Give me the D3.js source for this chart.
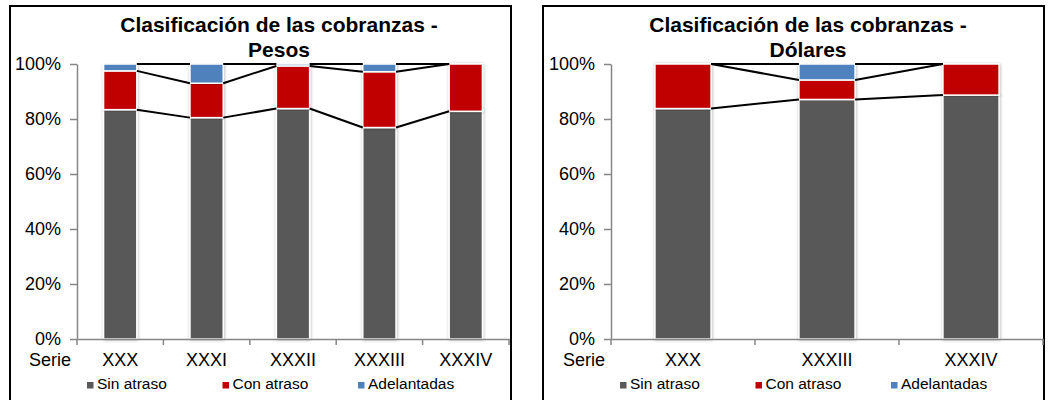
<!DOCTYPE html>
<html>
<head>
<meta charset="utf-8">
<script src="https://cdn.jsdelivr.net/npm/d3@7"></script>
<style>
  html, body { margin: 0; padding: 0; background: #fff; }
  svg { display: block; font-family: Arial, "Liberation Sans", sans-serif; }
</style>
</head>
<body>
<svg id="chart" width="1048" height="400"></svg>
<script>
// ---- Data ----
const seriesNames = ["Sin atraso", "Con atraso", "Adelantadas"];
const seriesColors = ["#595959", "#C00000", "#4F81BD"];
const yTicks = [0, 20, 40, 60, 80, 100];

const categoriesPesos = ["XXX", "XXXI", "XXXII", "XXXIII", "XXXIV"];
const sinAtrasoPesos = [83.4, 80.5, 83.8, 76.9, 82.8];
const conAtrasoPesos = [14.1, 12.5, 15.5, 20.3, 17.2];
const adelantadasPesos = [2.5, 7.0, 0.7, 2.8, 0];

const categoriesDolares = ["XXX", "XXXIII", "XXXIV"];
const sinAtrasoDolares = [83.8, 87.1, 88.7];
const conAtrasoDolares = [16.2, 7.1, 11.3];
const adelantadasDolares = [0, 5.8, 0];

const titlePesos = ["Clasificación de las cobranzas -", "Pesos"];
const titleDolares = ["Clasificación de las cobranzas -", "Dólares"];
const xAxisName = "Serie";

// ---- Drawing ----
const svg = d3.select("#chart");
const defs = svg.append("defs");
const f = defs.append("filter").attr("id", "shadow")
  .attr("x", "-20%").attr("y", "-5%").attr("width", "140%").attr("height", "110%");
f.append("feDropShadow").attr("dx", 0.5).attr("dy", 0.5).attr("stdDeviation", 1.6)
  .attr("flood-color", "#000").attr("flood-opacity", 0.3);

function drawPanel(cfg) {
  const { box, plot, categories, values, title, titleX, legendX, barFrac } = cfg;
  const g = svg.append("g");

  // border
  g.append("rect")
    .attr("x", box.x).attr("y", box.y).attr("width", box.w).attr("height", box.h)
    .attr("fill", "#fff").attr("stroke", "#000").attr("stroke-width", 2);

  // title
  title.forEach((t, i) => {
    g.append("text").attr("x", titleX).attr("y", 32 + i * 25)
      .attr("text-anchor", "middle").attr("font-size", 21).attr("font-weight", "bold")
      .attr("fill", "#000").text(t);
  });

  const x = d3.scaleBand().domain(categories).range([plot.x0, plot.x1]).padding(0);
  const y = d3.scaleLinear().domain([0, 100]).range([plot.y0, plot.y1]);
  const bw = x.bandwidth() * barFrac;

  // stack data
  const rows = categories.map((c, i) => {
    const r = { cat: c };
    seriesNames.forEach((s, k) => r[s] = values[k][i]);
    return r;
  });
  const stacked = d3.stack().keys(seriesNames)(rows);

  // bars
  const barsG = g.append("g");
  stacked.forEach((layer, k) => {
    barsG.selectAll(null).data(layer.filter(d => d[1] - d[0] > 0)).enter().append("rect")
      .attr("x", d => x(d.data.cat) + (x.bandwidth() - bw) / 2)
      .attr("y", d => y(d[1]))
      .attr("width", bw)
      .attr("height", d => y(d[0]) - y(d[1]))
      .attr("fill", seriesColors[k])
      .attr("stroke", "#fff").attr("stroke-width", 1.5)
      .attr("filter", "url(#shadow)");
  });

  // series lines
  stacked.forEach(layer => {
    for (let i = 0; i < layer.length - 1; i++) {
      const a = layer[i], b = layer[i + 1];
      g.append("line")
        .attr("x1", x(a.data.cat) + (x.bandwidth() + bw) / 2)
        .attr("y1", y(a[1]))
        .attr("x2", x(b.data.cat) + (x.bandwidth() - bw) / 2)
        .attr("y2", y(b[1]))
        .attr("stroke", "#000").attr("stroke-width", 2);
    }
  });

  // y axis
  const yAx = g.append("g").attr("transform", `translate(${plot.x0},0)`)
    .call(d3.axisLeft(y).tickValues(yTicks).tickFormat(d => d + "%").tickSize(7).tickPadding(9).tickSizeOuter(0));
  yAx.select(".domain").attr("stroke", "#868686").attr("stroke-width", 1.5);
  yAx.selectAll(".tick line").attr("stroke", "#868686").attr("stroke-width", 1.5);
  yAx.selectAll("text").attr("font-size", 18).attr("fill", "#000")
    .attr("font-family", "Arial, 'Liberation Sans', sans-serif");

  // x axis
  const xAx = g.append("g").attr("transform", `translate(0,${plot.y0})`)
    .call(d3.axisBottom(x).tickSize(0).tickPadding(14).tickSizeOuter(0));
  xAx.select(".domain").attr("stroke", "#868686").attr("stroke-width", 1.5);
  xAx.selectAll("text").attr("font-size", 18).attr("fill", "#000")
    .attr("font-family", "Arial, 'Liberation Sans', sans-serif");
  // boundary ticks
  const bounds = categories.map(c => x(c)).concat([plot.x1]);
  g.selectAll(null).data(bounds).enter().append("line")
    .attr("x1", d => d).attr("x2", d => d)
    .attr("y1", plot.y0).attr("y2", plot.y0 + 6)
    .attr("stroke", "#868686").attr("stroke-width", 1.5);

  // axis name
  g.append("text").attr("x", plot.x0 - 6).attr("y", 366)
    .attr("text-anchor", "end").attr("font-size", 18).attr("fill", "#000").text(xAxisName);

  // legend
  seriesNames.forEach((s, k) => {
    const lx = legendX + k * 135.5;
    g.append("rect").attr("x", lx).attr("y", 382).attr("width", 6.5).attr("height", 6.5)
      .attr("fill", seriesColors[k]);
    g.append("text").attr("x", lx + 10).attr("y", 389)
      .attr("font-size", 15.5).attr("fill", "#000").text(s);
  });
}

drawPanel({
  box: { x: 10, y: 6, w: 501, h: 400 },
  plot: { x0: 77, x1: 509, y0: 339, y1: 64 },
  categories: categoriesPesos,
  values: [sinAtrasoPesos, conAtrasoPesos, adelantadasPesos],
  title: titlePesos,
  titleX: 279,
  legendX: 87,
  barFrac: 0.385
});

drawPanel({
  box: { x: 543, y: 6, w: 501, h: 400 },
  plot: { x0: 611, x1: 1043, y0: 339, y1: 64 },
  categories: categoriesDolares,
  values: [sinAtrasoDolares, conAtrasoDolares, adelantadasDolares],
  title: titleDolares,
  titleX: 808,
  legendX: 620,
  barFrac: 0.39
});
</script>
</body>
</html>
